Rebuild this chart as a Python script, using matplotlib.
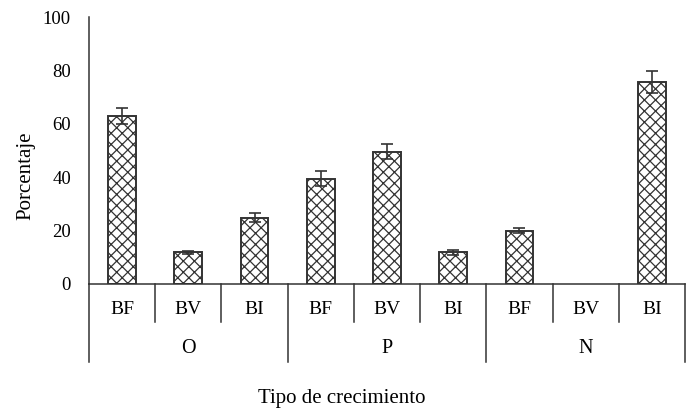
import matplotlib
matplotlib.use("Agg")
import matplotlib.pyplot as plt
import numpy as np

plt.rcParams["font.family"] = ["Liberation Serif", "DejaVu Serif"]

# datos
grupos = ["O", "P", "N"]
tipos = ["BF", "BV", "BI"]
porcentaje = [63.0, 11.9, 24.8, 39.5, 49.6, 11.9, 20.0, 0.0, 75.8]
error = [3.0, 0.5, 1.7, 2.8, 2.7, 0.9, 0.9, 0.0, 4.1]

EDGE = "#333333"

fig = plt.figure(figsize=(6.91, 4.08), dpi=100)
ax = fig.add_axes([89 / 691, 124 / 408, 596 / 691, 267 / 408])

x = np.arange(len(porcentaje))
plt.rcParams["hatch.linewidth"] = 0.9
plt.rcParams["hatch.color"] = EDGE
for xi, v, e in zip(x, porcentaje, error):
    if v <= 0:
        continue
    ax.bar(xi, v, width=0.42, color="white", edgecolor=EDGE, linewidth=1.4,
           hatch="xxx", zorder=2)
    ax.errorbar(xi, v, yerr=e, fmt="none", ecolor=EDGE, elinewidth=1.2,
                capsize=4, capthick=1.2, zorder=3)

ax.set_xlim(-0.5, len(porcentaje) - 0.5)
ax.set_ylim(0, 100)
ax.set_yticks([0, 20, 40, 60, 80, 100])
ax.tick_params(axis="y", length=0, pad=13, labelsize=13.5)
ax.set_xticks([])
for s in ("top", "right"):
    ax.spines[s].set_visible(False)
for s in ("left", "bottom"):
    ax.spines[s].set_color(EDGE)
    ax.spines[s].set_linewidth(1.1)

# ejes de categorías (estilo Excel)
tr = ax.get_xaxis_transform()
corto, largo = -0.142, -0.292
for b in np.arange(0.5, len(porcentaje) - 0.5, 1):
    y1 = largo if (b + 0.5) % 3 == 0 else corto
    ax.plot([b, b], [0, y1], transform=tr, color=EDGE, lw=1.1, clip_on=False)
for b in (-0.5, len(porcentaje) - 0.5):
    ax.plot([b, b], [0, largo], transform=tr, color=EDGE, lw=1.1, clip_on=False)

for i in x:
    ax.text(i, -0.094, tipos[i % 3], transform=tr, ha="center", va="center",
            fontsize=14)
for g, nombre in enumerate(grupos):
    ax.text(g * 3 + 1, -0.24, nombre, transform=tr, ha="center", va="center",
            fontsize=14.5)

fig.text(0.495, 10 / 408, "Tipo de crecimiento", ha="center", va="center",
         fontsize=15)
fig.text(26 / 691, (408 - 176) / 408, "Porcentaje", ha="center", va="center",
         rotation=90, fontsize=15)

fig.savefig("out.png", dpi=100)
